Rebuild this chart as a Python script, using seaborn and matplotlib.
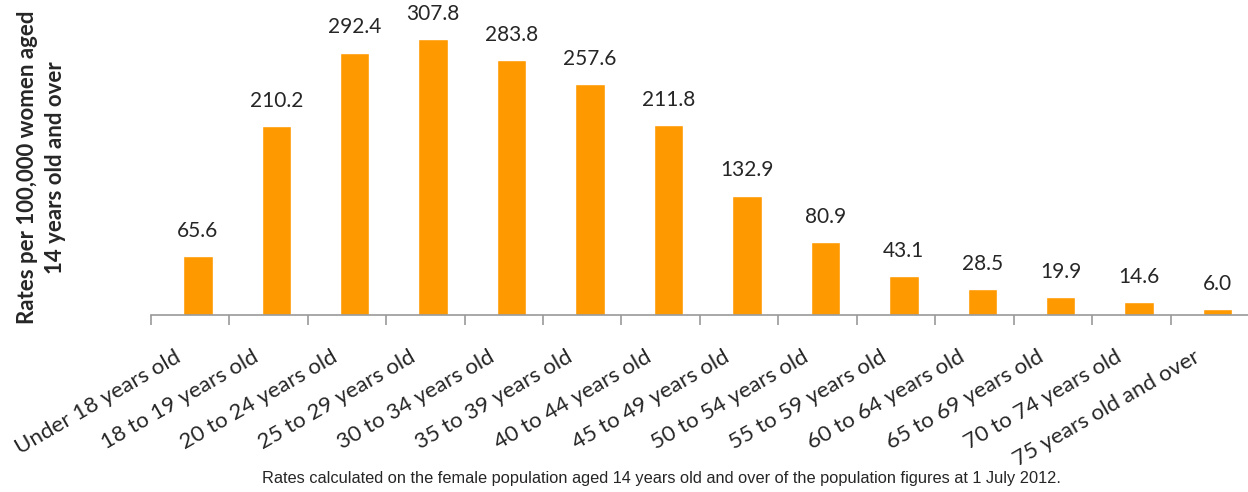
import numpy as np
import pandas as pd
import seaborn as sns
import matplotlib.pyplot as plt
from matplotlib.ticker import FixedLocator
from matplotlib.transforms import ScaledTranslation

categories = [
    "Under 18 years old", "18 to 19 years old", "20 to 24 years old",
    "25 to 29 years old", "30 to 34 years old", "35 to 39 years old",
    "40 to 44 years old", "45 to 49 years old", "50 to 54 years old",
    "55 to 59 years old", "60 to 64 years old", "65 to 69 years old",
    "70 to 74 years old", "75 years old and over",
]
rates = [65.6, 210.2, 292.4, 307.8, 283.8, 257.6, 211.8, 132.9, 80.9, 43.1, 28.5, 19.9, 14.6, 6.0]

sns.set_style("white")
plt.rcParams["font.family"] = ["Lato", "DejaVu Sans"]

df = pd.DataFrame({"age": categories, "rate": rates})

fig = plt.figure(figsize=(12.48, 4.92), dpi=100)
ax = fig.add_axes([0.1208, 0.36, 0.880, 0.64])
sns.barplot(data=df, x="age", y="rate", color="#FF9900", saturation=1,
            width=0.376, ax=ax)

for i, v in enumerate(rates):
    ax.text(i, v + 17, f"{v:.1f}", ha="center", va="bottom", fontsize=15)

# bars sit a little right of the middle of each slot, as in the original
ax.set_ylim(0, 351)
ax.set_xlim(-0.6, len(categories) - 0.6)
ax.set_yticks([])
ax.set_xlabel("")
ax.set_ylabel("")
for s in ["top", "right", "left"]:
    ax.spines[s].set_visible(False)
ax.spines["bottom"].set_color("#999999")
ax.spines["bottom"].set_linewidth(1.2)

ax.tick_params(axis="x", which="major", length=0, pad=10)
ax.xaxis.set_minor_locator(FixedLocator(np.arange(-0.6, len(categories), 1)))
ax.tick_params(axis="x", which="minor", bottom=True, length=7,
               color="#999999", width=1.2)
shift = ScaledTranslation(-0.24, -0.18, fig.dpi_scale_trans)
for lbl in ax.get_xticklabels():
    lbl.set_rotation(30)
    lbl.set_ha("right")
    lbl.set_rotation_mode("anchor")
    lbl.set_fontsize(16)
    lbl.set_transform(lbl.get_transform() + shift)

fig.text(0.033, 0.66, "Rates per 100,000 women aged\n14 years old and over",
         rotation=90, ha="center", va="center", fontsize=16,
         fontweight="bold", linespacing=1.4)
fig.text(0.53, 0.028,
         "Rates calculated on the female population aged 14 years old and over of the population figures at 1 July 2012.",
         ha="center", va="center", fontsize=11.8, family="Liberation Sans")

fig.savefig("out.png", dpi=100)
